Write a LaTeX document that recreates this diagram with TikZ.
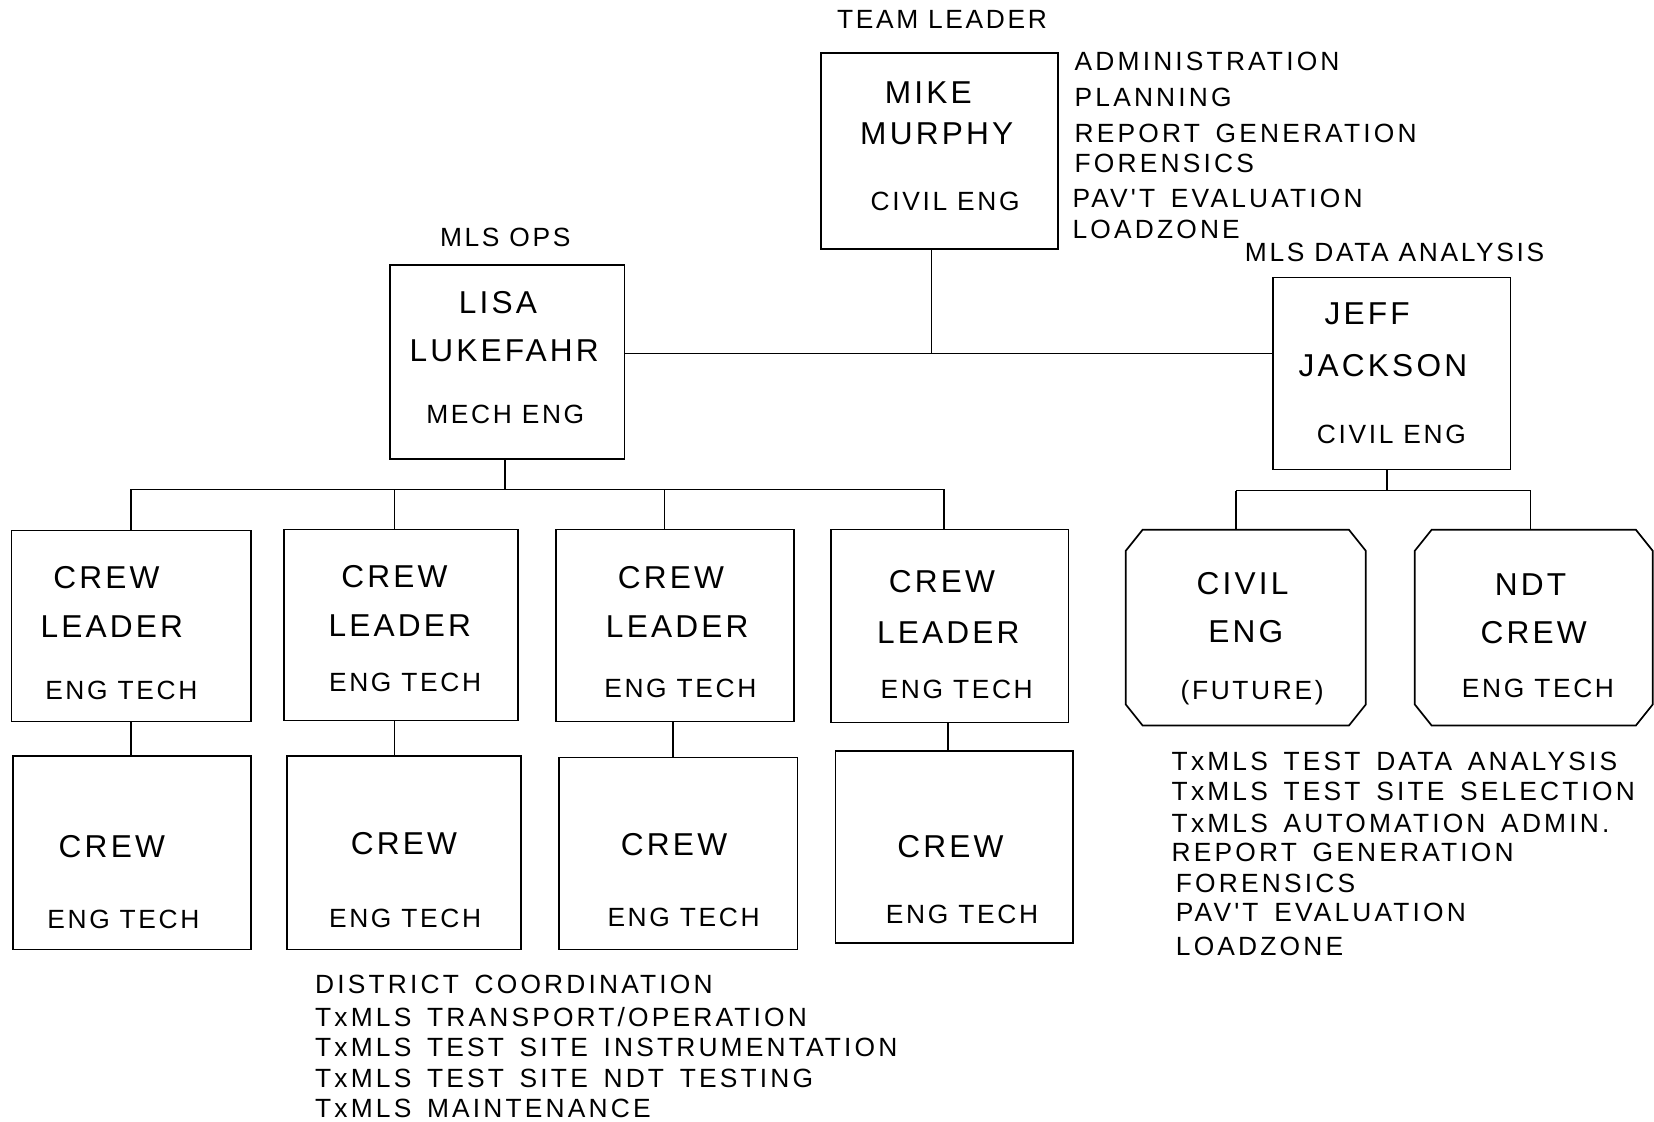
\documentclass[tikz,border=0pt]{standalone}
\usepackage{fontspec}
\setmainfont[LetterSpace=10]{Liberation Sans}
\newfontfamily\lstfont[LetterSpace=12,WordSpace=1.5]{Liberation Sans}
\begin{document}
\begin{tikzpicture}[x=1pt,y=-1pt,
  line width=1.6pt,
  box/.style={draw, line width=1.6pt, inner sep=0pt},
  octbase/.style={inner sep=0pt},
  big/.style={font=\fontsize{30}{36}\selectfont, inner sep=0pt, text height=21.5pt, text depth=0pt},
  small/.style={font=\fontsize{25}{30}\selectfont, inner sep=0pt, text height=18pt, text depth=0pt},
  lst/.style={font=\lstfont\fontsize{25}{30}\selectfont, inner sep=0pt, text height=18pt, text depth=0pt, anchor=west}]
\useasboundingbox (0,0) rectangle (1568,1063);

% ---------- boxes ----------
\node[box, minimum width=225pt, minimum height=186pt] (mike) at (890.5,143) {};
\node[box, minimum width=222pt, minimum height=184pt] (lisa) at (481,343) {};
\node[box, minimum width=225pt, minimum height=182pt] (jeff) at (1319.5,354) {};
\node[box, minimum width=227pt, minimum height=181pt] (cl1) at (124.5,593.5) {};
\node[box, minimum width=222pt, minimum height=181pt] (cl2) at (380,592.5) {};
\node[box, minimum width=226pt, minimum height=182pt] (cl3) at (640,593) {};
\node[box, minimum width=225pt, minimum height=183pt] (cl4) at (900.5,593.5) {};
\node[box, minimum width=226pt, minimum height=183pt] (c1) at (125,808.5) {};
\node[box, minimum width=222pt, minimum height=183pt] (c2) at (383,808.5) {};
\node[box, minimum width=226pt, minimum height=182pt] (c3) at (643,809) {};
\node[box, minimum width=225pt, minimum height=182pt] (c4) at (904.5,803) {};
\node[octbase, minimum width=226pt, minimum height=184pt] (civ) at (1181,595) {};
\node[octbase, minimum width=224pt, minimum height=184pt] (ndt) at (1454,595) {};
\foreach \o in {civ,ndt}{
  \draw ([xshift=16pt]\o.north west) -- ([xshift=-16pt]\o.north east)
     -- ([yshift=-20pt]\o.north east) -- ([yshift=20pt]\o.south east)
     -- ([xshift=-16pt]\o.south east) -- ([xshift=16pt]\o.south west)
     -- ([yshift=20pt]\o.south west) -- ([yshift=-20pt]\o.north west) -- cycle;
}

% ---------- connectors ----------
\coordinate (j1) at (883,335);
\draw (mike.south -| j1) -- (j1);
\draw (lisa.east |- j1) -- (jeff.west |- j1);

\coordinate (bl) at (479,464);
\coordinate (d1) at (124,464);
\coordinate (d2) at (374,464);
\coordinate (d3) at (630,464);
\coordinate (d4) at (895,464);
\draw (lisa.south -| bl) -- (bl);
\draw (d1) -- (d4);
\draw (d1) -- (cl1.north -| d1);
\draw (d2) -- (cl2.north -| d2);
\draw (d3) -- (cl3.north -| d3);
\draw (d4) -- (cl4.north -| d4);

\coordinate (v1) at (124,700);
\coordinate (v2) at (374,700);
\coordinate (v3) at (638,700);
\coordinate (v4) at (899,700);
\draw (cl1.south -| v1) -- (c1.north -| v1);
\draw (cl2.south -| v2) -- (c2.north -| v2);
\draw (cl3.south -| v3) -- (c3.north -| v3);
\draw (cl4.south -| v4) -- (c4.north -| v4);

\coordinate (bj) at (1315,465);
\coordinate (k1) at (1172,465);
\coordinate (k2) at (1451,465);
\draw (jeff.south -| bj) -- (bj);
\draw (k1) -- (k2);
\draw (k1) -- (civ.north -| k1);
\draw (k2) -- (ndt.north -| k2);

% ---------- texts ----------
\node[small] (tTL) at (893,18) {TEAM LEADER};
\node[big] (tMike1) at (880,87) {MIKE};
\node[big] (tMike2) at (888,126) {MURPHY};
\node[small] (tMike3) at (896,191) {CIVIL ENG};

\node[lst] (a1) at (1018,58) {ADMINISTRATION};
\node[lst] (a2) at (1018,92) {PLANNING};
\node[lst] (a3) at (1018,126) {REPORT GENERATION};
\node[lst] (a4) at (1018,155) {FORENSICS};
\node[lst] (a5) at (1016,188) {PAV'T EVALUATION};
\node[lst] (a6) at (1016,217) {LOADZONE};

\node[small] (tOps) at (479,225) {MLS OPS};
\node[big] (tLisa1) at (472,286) {LISA};
\node[big] (tLisa2) at (478,332) {LUKEFAHR};
\node[small] (tLisa3) at (479,392) {MECH ENG};

\node[small] (tMDA) at (1322,239) {MLS DATA ANALYSIS};
\node[big] (tJeff1) at (1296,297) {JEFF};
\node[big] (tJeff2) at (1311,346) {JACKSON};
\node[small] (tJeff3) at (1319,411) {CIVIL ENG};

\node[big] at (101,547) {CREW};
\node[big] at (106,594) {LEADER};
\node[small] at (115,654) {ENG TECH};
\node[big] at (374,546) {CREW};
\node[big] at (379,593) {LEADER};
\node[small] at (384,647) {ENG TECH};
\node[big] at (636,547) {CREW};
\node[big] at (642,594) {LEADER};
\node[small] at (645,652) {ENG TECH};
\node[big] at (893,551) {CREW};
\node[big] at (899,599) {LEADER};
\node[small] at (907,653) {ENG TECH};

\node[big] at (106,802) {CREW};
\node[small] at (117,871) {ENG TECH};
\node[big] at (383,799) {CREW};
\node[small] at (384,870) {ENG TECH};
\node[big] at (639,800) {CREW};
\node[small] at (648,869) {ENG TECH};
\node[big] at (901,802) {CREW};
\node[small] at (912,866) {ENG TECH};

\node[big] at (1178,553) {CIVIL};
\node[big] at (1181,598) {ENG};
\node[small] at (1187,654) {(FUTURE)};
\node[big] at (1451,554) {NDT};
\node[big] at (1454,599) {CREW};
\node[small] at (1458,652) {ENG TECH};

\node[lst] (b1) at (298,933) {DISTRICT COORDINATION};
\node[lst] (b2) at (298,964) {TxMLS TRANSPORT/OPERATION};
\node[lst] (b3) at (298,993) {TxMLS TEST SITE INSTRUMENTATION};
\node[lst] (b4) at (298,1022) {TxMLS TEST SITE NDT TESTING};
\node[lst] (b5) at (298,1050) {TxMLS MAINTENANCE};

\node[lst] (r1) at (1110,721) {TxMLS TEST DATA ANALYSIS};
\node[lst] (r2) at (1110,750) {TxMLS TEST SITE SELECTION};
\node[lst] (r3) at (1110,780) {TxMLS AUTOMATION ADMIN.};
\node[lst] (r4) at (1110,808) {REPORT GENERATION};
\node[lst] (r5) at (1114,837) {FORENSICS};
\node[lst] (r6) at (1114,865) {PAV'T EVALUATION};
\node[lst] (r7) at (1114,897) {LOADZONE};
\end{tikzpicture}
\end{document}
